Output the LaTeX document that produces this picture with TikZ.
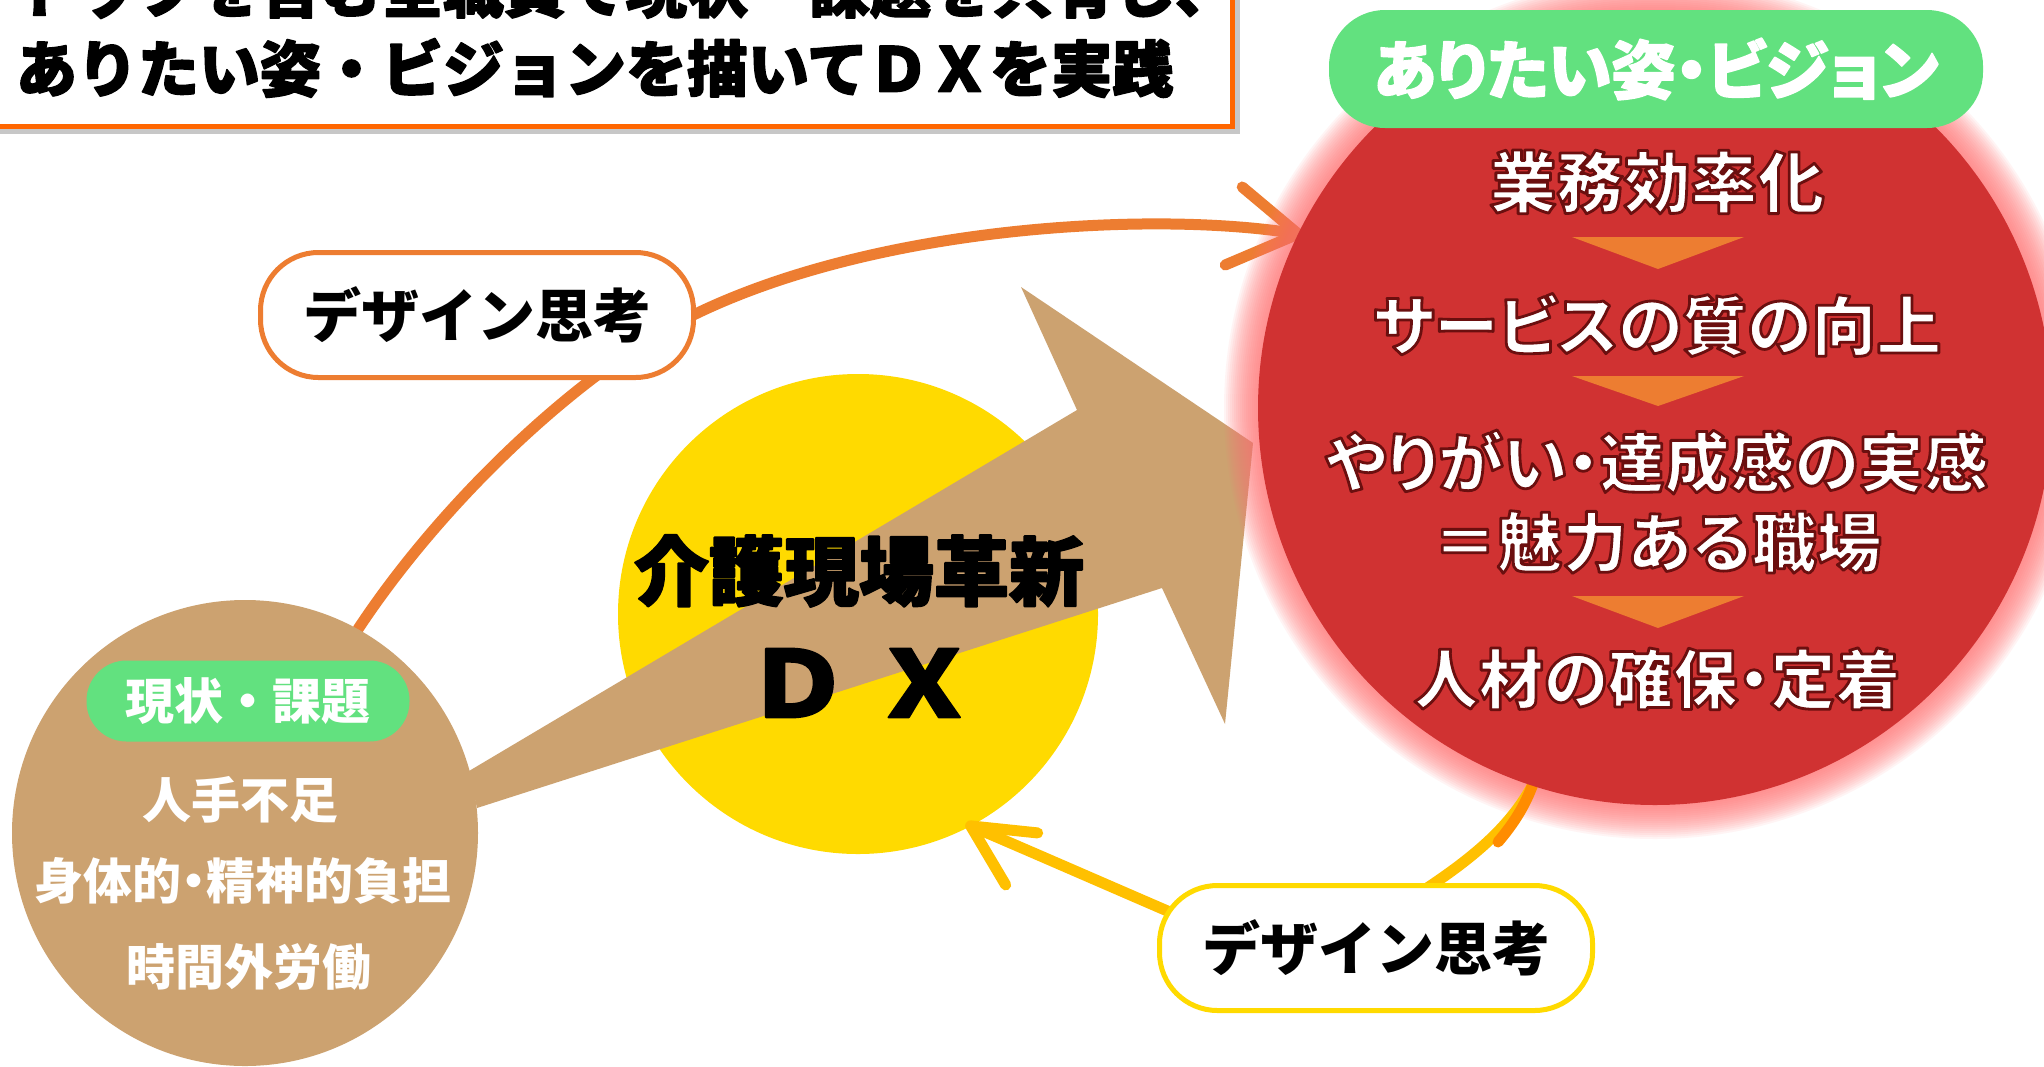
\documentclass[tikz,border=0pt]{standalone}
\usepackage{fontspec}
\usepackage{graphicx}
\usetikzlibrary{calc}
\newfontfamily\jp{Noto Sans CJK JP}
\newfontfamily\jpp{Noto Sans CJK JP}[RawFeature=+palt]
\definecolor{cRed}{HTML}{D03232}
\definecolor{cGlow}{HTML}{FF7070}
\definecolor{cTan}{HTML}{CCA270}
\definecolor{cGreen}{HTML}{62E17F}
\definecolor{cYel}{HTML}{FFDA00}
\definecolor{cOra}{HTML}{ED7D31}
\definecolor{cOraB}{HTML}{FF8C00}
\definecolor{cGold}{HTML}{FFC000}
\definecolor{cTitle}{HTML}{FF6600}
\newcommand\hv[3]{\special{pdf:literal direct #1 w 1 j #2 RG 2 Tr}#3\special{pdf:literal direct 0 Tr}}
\begin{document}
\begin{tikzpicture}[x=1pt,y=-1pt,
  every node/.style={inner sep=0pt, outer sep=0pt},
  ghost/.style={circle, minimum size=#1},
  titletxt/.style={anchor=west, font=\jp\bfseries\fontsize{61}{61}\selectfont, text=black},
  redtxt/.style={font=\jpp\bfseries\fontsize{65}{65}\selectfont, text=white},
  whitetxt/.style={font=\jpp\bfseries\fontsize{49}{49}\selectfont, text=white},
  dxtxt/.style={font=\jp\bfseries\fontsize{75}{75}\selectfont, text=black},
  dtbox/.style={draw=#1, line width=5pt, fill=white, rounded corners=58pt,
    minimum width=433pt, minimum height=125pt,
    font=\jp\bfseries\fontsize{58}{58}\selectfont, text=black},
  topline/.style={cOra, line width=11pt, line cap=round, line join=round},
  botline/.style={cGold, line width=11pt, line cap=round, line join=round}
]
\useasboundingbox (0,0) rectangle (2044,1066);
\clip (0,0) rectangle (2044,1066);
\fill[white] (0,0) rectangle (2044,1066);
% invisible reference circles
\node[ghost=466pt] (cur) at (245,833) {};
\node[ghost=794pt] (vis) at (1655,408) {};
\node[ghost=480pt] (dx) at (858,614) {};
% title box
\fill[black!22] (-4,-200) rectangle (1240,134);
\draw[cTitle, line width=5pt, fill=white] (-12,-200) rectangle (1232,126);
\node[titletxt] (t1) at (16,-11) {\hv{1.6}{0 0 0}{トップを含む全職員で現状・課題を共有し、}};
\node[titletxt] (t2) at (16,68) {\hv{1.6}{0 0 0}{ありたい姿・ビジョンを描いてＤＸを実践}};
% top arc (design thinking)
\coordinate (a1) at (640,345);
\draw[topline] (cur.61) .. controls (430,520) and (540,410) .. (a1)
  .. controls (820,228) and (1143,208) .. (vis.154);
\draw[topline] ($(vis.154)+(-56,-47)$) -- (vis.154) -- ++(-73,31);
% yellow DX circle
\fill[cYel] (dx.center) circle (240pt);
% big tan arrow
\fill[cTan] (469,771) -- (1077,410) -- (1021,287) -- (1253,443) -- (1225,724)
  -- (1162,588) -- (477,808) -- cycle;
% left circle
\fill[cTan] (cur.center) circle (233pt);
% glow of the vision circle
\foreach \k in {1,...,17}
  \fill[cGlow, opacity=0.075] (vis.center) circle ({(397+2*\k)*1pt});
% bottom arc
\coordinate (b1) at (1370,925);
\coordinate (b2) at (1200,925);
\draw[botline] (vis.252) .. controls (1500,845) and (1440,880) .. (b1);
\draw[cOraB, line width=11pt, line cap=round] (vis.252) .. controls (1525,805) and (1515,822) .. (1498,842);
\draw[botline] (b2) .. controls (1130,895) and (1032,852) .. (dx.298);
\draw[botline] ($(dx.298)+(67,7)$) -- (dx.298) -- ++(35,59);
% red vision circle
\fill[cRed] (vis.center) circle (397pt);
\fill[cOra] (1572,237) -- (1744,237) -- (1658,269) -- cycle;
\fill[cOra] (1572,376) -- (1744,376) -- (1658,406) -- cycle;
\fill[cOra] (1572,596) -- (1744,596) -- (1658,628) -- cycle;
\node[redtxt, font=\jpp\bfseries\fontsize{67}{67}\selectfont] (r1) at (1657,182) {\hv{2.8}{0.42 0.06 0.06}{業務効率化}};
\node[redtxt] (r2) at (1657,325) {\hv{2.8}{0.42 0.06 0.06}{サービスの質の向上}};
\node[redtxt] (r3) at (1657,462) {\hv{2.8}{0.42 0.06 0.06}{やりがい・達成感の実感}};
\node[redtxt] (r4) at (1657,542) {\hv{2.8}{0.42 0.06 0.06}{＝魅力ある職場}};
\node[redtxt] (r5) at (1657,679) {\hv{2.8}{0.42 0.06 0.06}{人材の確保・定着}};
% vision pill
\node[fill=cGreen, rounded corners=56pt, minimum width=654pt, minimum height=118pt,
  font=\jpp\bfseries\fontsize{64}{64}\selectfont, text=white] (pv) at (1656,69)
  {\hv{1.5}{1 1 1}{ありたい姿・ビジョン}};
% design thinking labels
\node[dtbox=cOra] (dtop) at (477,315) {デザイン思考};
\node[dtbox=cYel] (dbot) at (1376,948) {デザイン思考};
% current state
\node[fill=cGreen, rounded corners=40pt, minimum width=323pt, minimum height=81pt,
  font=\jp\bfseries\fontsize{49}{49}\selectfont, text=white] (pg) at (248,701) {現状・課題};
\node[whitetxt] (l1) at (240,800) {人手不足};
\node[whitetxt] (l2) at (243,881) {身体的・精神的負担};
\node[whitetxt] (l3) at (249,967) {時間外労働};
% DX texts
\node[dxtxt] (dxa) at (859,571) {\hv{2}{0 0 0}{介護現場革新}};
\node[font=\jp\bfseries\fontsize{92}{92}\selectfont, text=black] (dxb) at (861,683)
  {\scalebox{1.12}[1]{\hv{2}{0 0 0}{Ｄ Ｘ}}};
\end{tikzpicture}
\end{document}
